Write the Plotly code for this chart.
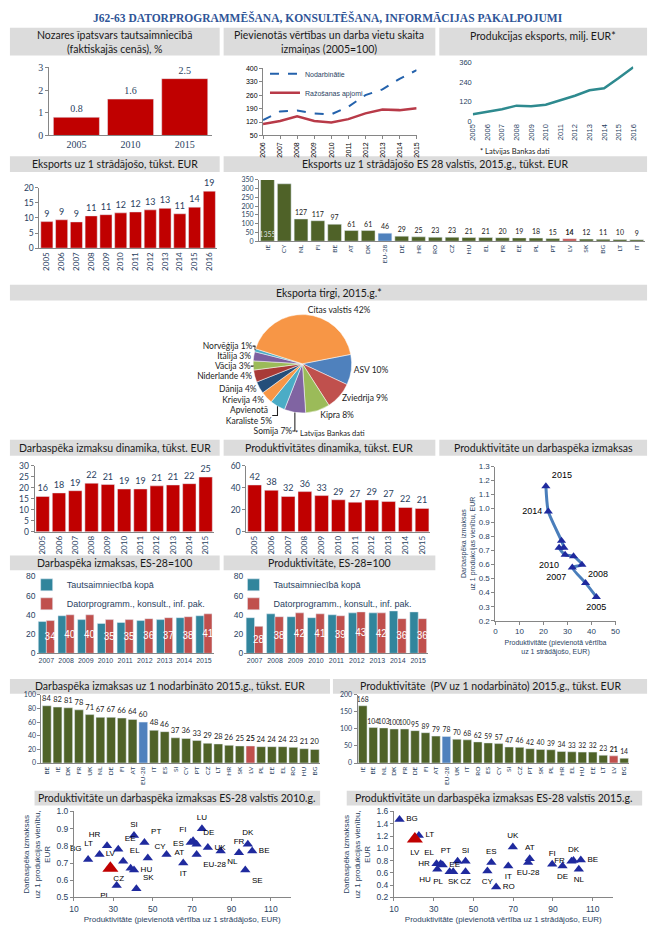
import plotly.graph_objects as go

W, H = 657, 940

# ---------------- DATA ----------------
share_years = ["2005", "2010", "2015"]
share_vals = [0.8, 1.6, 2.5]

idx_years = ["2006", "2007", "2008", "2009", "2010", "2011", "2012", "2013", "2014", "2015"]
idx_employed = [130, 175, 180, 165, 160, 200, 260, 290, 345, 390]
idx_output = [110, 125, 150, 125, 118, 135, 165, 185, 182, 192]

exp_years = ["2005", "2006", "2007", "2008", "2009", "2010", "2011", "2012", "2013", "2014", "2015", "2016"]
exp_vals = [45, 60, 75, 97, 93, 103, 130, 157, 190, 203, 265, 330]

epw_vals = [8.8, 9.4, 8.7, 10.7, 11.1, 11.7, 12.0, 12.7, 13.2, 11.4, 13.6, 18.9]

eu_exp_countries = ["IE", "CY", "NL", "FI", "BE", "AT", "DK", "EU-28", "DE", "HR", "RO", "CZ",
                    "HU", "EL", "FR", "EE", "PL", "PT", "LV", "SK", "BG", "LT", "IT"]
eu_exp_vals = [1355, 328, 127, 117, 97, 61, 61, 46, 29, 25, 23, 23, 21, 21, 20, 19, 18, 15, 14, 12, 11, 10, 9]

pie_labels = ["ASV", "Zviedrija", "Kipra", "Somija", "Apvienotā<br>Karaliste", "Krievija", "Dānija",
              "Niderlande", "Vācija", "Itālija", "Norvēģija", "Citas valstis"]
pie_vals = [10, 9, 8, 7, 5, 4, 4, 4, 3, 3, 1, 42]

dyn_years = ["2005", "2006", "2007", "2008", "2009", "2010", "2011", "2012", "2013", "2014", "2015"]
lab_cost = [16, 17.6, 18.6, 22, 21.4, 19.4, 19.4, 20.8, 21.2, 21.8, 24.8]
prod = [42.4, 37.6, 32, 36.4, 32.8, 29, 26.8, 28.8, 27.4, 22, 21.2]

pl_years = ["2005", "2006", "2007", "2008", "2009", "2010", "2011", "2012", "2013", "2014", "2015"]
pl_prod = [42, 37.5, 32, 36, 32.5, 29, 26.5, 28.5, 27.5, 22, 21]
pl_cost = [0.37, 0.47, 0.58, 0.60, 0.66, 0.67, 0.72, 0.72, 0.77, 0.98, 1.16]
pl_labels = ["2005", "", "2007", "2008", "", "2010", "", "", "", "2014", "2015"]

idx_years2 = ["2007", "2008", "2009", "2010", "2011", "2012", "2013", "2014", "2015"]
lab_idx_total = [33, 39, 35, 31, 32, 34, 35, 37, 39]
lab_idx_sector = [34, 40, 40, 35, 35, 36, 37, 38, 41]
prod_idx_total = [37, 41, 38, 37, 40, 42, 42, 44, 43]
prod_idx_sector = [28, 38, 42, 41, 39, 43, 42, 36, 36]

lc_countries = ["BE", "IE", "DK", "FR", "UK", "NL", "DE", "FI", "AT", "EU-28", "IT", "ES", "SI", "CY",
                "PT", "CZ", "LT", "HR", "SK", "LV", "PL", "EE", "EL", "RO", "HU", "BG"]
lc_vals = [84, 82, 81, 78, 71, 67, 67, 66, 64, 60, 48, 46, 37, 36, 33, 29, 28, 26, 25, 25, 24, 24, 24, 23, 21, 20]

pv_countries = ["IE", "BE", "NL", "DK", "FR", "DE", "FI", "AT", "EU-28", "UK", "IT", "RO", "ES", "CY",
                "SI", "CZ", "PT", "SK", "PL", "HR", "EL", "HU", "EE", "LT", "LV", "BG"]
pv_vals = [168, 104, 103, 100, 100, 95, 89, 79, 78, 70, 68, 62, 59, 57, 47, 46, 42, 40, 39, 34, 33, 32, 32, 23, 21, 14]

sc10_c = ["BG", "LT", "HR", "EE", "EL", "SI", "CZ", "HU", "PL", "SK", "PT", "CY", "ES", "AT", "FI",
          "DE", "EU-28", "IT", "LU", "UK", "NL", "FR", "DK", "BE", "SE"]
sc10_x = [17.2, 23, 26.8, 32.5, 35, 40.5, 38.8, 40.5, 31.7, 41.7, 45.8, 47.5, 57, 69.3, 70.5,
          72.3, 72.3, 65.5, 75, 78, 84.5, 93.8, 98.3, 100.5, 97]
sc10_y = [0.72, 0.75, 0.80, 0.78, 0.71, 0.86, 0.67, 0.66, 0.57, 0.55, 0.82, 0.73, 0.75, 0.82, 0.83,
          0.81, 0.75, 0.70, 0.90, 0.79, 0.77, 0.76, 0.81, 0.77, 0.66]
sc10_lv = [28.5, 0.67]

sc15_c = ["BG", "LT", "HR", "EL", "EE", "HU", "PL", "SK", "CZ", "PT", "SI", "CY", "ES", "RO", "IT",
          "UK", "AT", "EU-28", "FI", "DE", "FR", "DK", "BE", "NL"]
sc15_x = [12.8, 22.5, 31.4, 33.5, 34.5, 31.8, 38, 39.8, 46, 42, 46, 57, 59, 61.4, 67.5,
          69.8, 78.3, 77.5, 89.6, 94.8, 99.3, 100.3, 104, 103]
sc15_y = [1.47, 1.21, 0.75, 0.75, 0.73, 0.66, 0.62, 0.62, 0.62, 0.79, 0.79, 0.63, 0.77, 0.37, 0.71,
          1.02, 0.83, 0.77, 0.74, 0.71, 0.79, 0.80, 0.81, 0.66]
sc15_lv = [20.5, 1.15]

# ---------------- STYLE ----------------
SANS = "Liberation Sans"
CAL = "Lato"
SERIF = "Liberation Serif"
AX = "#868686"
RED = "#C00000"
GREEN = "#4F6228"
BLUE = "#4F81BD"
LVRED = "#C0504D"
TEAL = "#31859C"
NAVY = "#1F2A9E"

pos10 = {"BG": "top left", "LT": "top left", "HR": "top left", "EE": "top right", "EL": "top right",
         "SI": "top center", "CZ": "bottom left", "HU": "middle right", "PL": "bottom left",
         "SK": "top right", "PT": "top right", "CY": "top right", "ES": "top right", "AT": "bottom left",
         "FI": "top left", "DE": "top right", "EU-28": "bottom right", "IT": "bottom center",
         "LU": "top center", "UK": "middle right", "NL": "bottom right", "FR": "top center",
         "DK": "top center", "BE": "middle right", "SE": "bottom right"}
pos15 = {"BG": "middle right", "LT": "middle right", "HR": "middle left", "EL": "top left",
         "EE": "middle right", "HU": "bottom left", "PL": "bottom left", "SK": "bottom center",
         "CZ": "bottom center", "PT": "top left", "SI": "top center", "CY": "bottom center",
         "ES": "top center", "RO": "middle right", "IT": "bottom center", "UK": "top center",
         "AT": "top center", "EU-28": "bottom center", "FI": "top center", "DE": "bottom center",
         "FR": "middle left", "DK": "top center", "BE": "middle right", "NL": "bottom center"}
pl_pos = ["bottom center", "top left", "bottom left", "bottom right", "top left", "bottom left",
          "top left", "top left", "top left", "middle left", "top right"]

fig = go.Figure()
layout = {}


def sfx(n):
    return "" if n == 1 else str(n)


def add_axes(n, x0, x1, y0, y1, xa=None, ya=None):
    bx = dict(domain=[x0 / W, x1 / W], anchor="y" + sfx(n), showline=True, linecolor=AX, linewidth=1,
              ticks="outside", ticklen=3, tickcolor=AX, showgrid=False, zeroline=False, fixedrange=True,
              tickfont=dict(family=SANS, size=7, color="#000"))
    by = dict(domain=[1 - y1 / H, 1 - y0 / H], anchor="x" + sfx(n), showline=True, linecolor=AX, linewidth=1,
              ticks="outside", ticklen=3, tickcolor=AX, showgrid=False, zeroline=False, fixedrange=True,
              tickfont=dict(family=SANS, size=7, color="#000"))
    if xa:
        bx.update(xa)
    if ya:
        by.update(ya)
    layout["xaxis" + sfx(n)] = bx
    layout["yaxis" + sfx(n)] = by


def ax(n):
    return dict(xaxis="x" + sfx(n), yaxis="y" + sfx(n))


def fmt(v):
    return f"{v:.0f}"


# P1 share
fig.add_trace(go.Bar(x=share_years, y=share_vals, marker_color=RED, width=0.85,
                     text=[f"{v:.1f}" for v in share_vals], textposition="outside", constraintext="none",
                     textfont=dict(family=SERIF, size=10), cliponaxis=False, showlegend=False, **ax(1)))
add_axes(1, 45, 210, 62, 131,
         xa=dict(type="category", tickfont=dict(family=SERIF, size=10), ticks=""),
         ya=dict(range=[0, 3], dtick=1, tickfont=dict(family=SERIF, size=10)))

# P2 index lines
fig.add_trace(go.Scatter(x=idx_years, y=idx_employed, mode="lines", name="Nodarbinātie",
                         line=dict(color="#2462AC", width=2, dash="dash"), legend="legend", **ax(2)))
fig.add_trace(go.Scatter(x=idx_years, y=idx_output, mode="lines", name="Ražošanas apjomi",
                         line=dict(color="#B83A48", width=2.5), legend="legend", **ax(2)))
add_axes(2, 262, 418, 63, 131,
         xa=dict(type="category", tickangle=-90),
         ya=dict(range=[50, 400], tick0=50, dtick=70))

# P3 exports
fig.add_trace(go.Scatter(x=exp_years, y=exp_vals, mode="lines", line=dict(color="#2E8A8F", width=2.5),
                         showlegend=False, **ax(3)))
add_axes(3, 475, 638, 57, 117,
         xa=dict(type="category", tickangle=-90, ticks="", showline=False, tickfont=dict(family=SANS, size=7.5)),
         ya=dict(range=[0, 360], dtick=120, showline=False, ticks="", tickfont=dict(family=SANS, size=7.5)))

# P4 exports per worker
fig.add_trace(go.Bar(x=exp_years, y=epw_vals, marker_color=RED, text=[fmt(v) for v in epw_vals],
                     textposition="outside", constraintext="none", textfont=dict(family=CAL, size=9),
                     cliponaxis=False, showlegend=False, **ax(4)))
add_axes(4, 35, 215, 184, 245,
         xa=dict(type="category", tickangle=-90, tickfont=dict(family=CAL, size=8), ticks=""),
         ya=dict(range=[0, 20], dtick=5, tickfont=dict(family=CAL, size=8.5)))

# P5 EU exports per worker
eu_colors = [BLUE if c == "EU-28" else (LVRED if c == "LV" else GREEN) for c in eu_exp_countries]
eu_text = [f"<b>{v}</b>" if c == "LV" else str(v) for c, v in zip(eu_exp_countries, eu_exp_vals)]
eu_tpos = ["inside" if v > 350 else "outside" for v in eu_exp_vals]
fig.add_trace(go.Bar(x=eu_exp_countries, y=eu_exp_vals, marker_color=eu_colors, text=eu_text,
                     textposition=eu_tpos, insidetextanchor="start", constraintext="none", textangle=0,
                     textfont=dict(family=CAL, size=7, color="#222"),
                     insidetextfont=dict(family=CAL, size=7, color="#DDDDDD"),
                     outsidetextfont=dict(family=CAL, size=7, color="#222"),
                     cliponaxis=True, showlegend=False, **ax(5)))
add_axes(5, 258, 650, 176, 238,
         xa=dict(type="category", tickangle=-90, tickfont=dict(family=CAL, size=6.5), ticks=""),
         ya=dict(range=[0, 350], dtick=50, tickfont=dict(family=CAL, size=7)))

# P6 pie
pie_colors = ["#4F81BD", "#C0504D", "#9BBB59", "#8064A2", "#4BACC6", "#F79646", "#254E7A",
              "#A83A37", "#9BBB59", "#7C5FA0", "#4BACC6", "#F79646"]
fig.add_trace(go.Pie(labels=pie_labels, values=pie_vals, sort=False, direction="clockwise", rotation=79,
                     marker=dict(colors=pie_colors, line=dict(color="#FFFFFF", width=0.5)),
                     texttemplate="%{label} %{value}%", textposition="outside",
                     textfont=dict(family=CAL, size=8.5, color="#222"), showlegend=False,
                     domain=dict(x=[252 / W, 352 / W], y=[1 - 412 / H, 1 - 312 / H])))

# P7 labour cost dynamics
fig.add_trace(go.Bar(x=dyn_years, y=lab_cost, marker_color=RED, text=[fmt(v) for v in lab_cost],
                     textposition="outside", constraintext="none", textfont=dict(family=CAL, size=9),
                     cliponaxis=False, showlegend=False, **ax(7)))
add_axes(7, 30, 212, 465, 532,
         xa=dict(type="category", tickangle=-90, tickfont=dict(family=CAL, size=8), ticks=""),
         ya=dict(range=[0, 30], dtick=5, tickfont=dict(family=CAL, size=8.5)))

# P8 productivity dynamics
fig.add_trace(go.Bar(x=dyn_years, y=prod, marker_color=RED, text=[fmt(v) for v in prod],
                     textposition="outside", constraintext="none", textfont=dict(family=CAL, size=9),
                     cliponaxis=False, showlegend=False, **ax(8)))
add_axes(8, 245, 432, 465, 532,
         xa=dict(type="category", tickangle=-90, tickfont=dict(family=CAL, size=8), ticks=""),
         ya=dict(range=[0, 60], dtick=20, tickfont=dict(family=CAL, size=8.5)))

# P9 productivity vs labour cost
fig.add_trace(go.Scatter(x=pl_prod, y=pl_cost, mode="lines+markers+text", text=pl_labels,
                         textposition=pl_pos, textfont=dict(family=SANS, size=9, color="#000"),
                         line=dict(color="#4A7EBB", width=3, shape="spline", smoothing=0.6),
                         marker=dict(symbol="triangle-up", size=8, color=NAVY),
                         cliponaxis=False, showlegend=False, **ax(9)))
add_axes(9, 498, 620, 466, 622,
         xa=dict(range=[0, 50], dtick=10, tickfont=dict(family=SANS, size=8),
                 title=dict(text="Produktivitāte (pievienotā vērtība<br>uz 1 strādājošo, EUR)",
                            font=dict(family=SANS, size=7), standoff=4)),
         ya=dict(range=[0.2, 1.3], dtick=0.1, tickformat=".1f", tickfont=dict(family=SANS, size=8),
                 title=dict(text="Darbaspēka izmaksas<br>uz 1 produkcijas vienību, EUR",
                            font=dict(family=SANS, size=7), standoff=2)))

# P10 labour cost index
fig.add_trace(go.Bar(x=idx_years2, y=lab_idx_total, name="Tautsaimniecībā kopā", marker_color=TEAL,
                     legend="legend2", **ax(10)))
fig.add_trace(go.Bar(x=idx_years2, y=lab_idx_sector, name="Datorprogramm., konsult., inf. pak.",
                     marker_color=LVRED, text=[str(v) for v in lab_idx_sector], textposition="inside",
                     insidetextanchor="middle", textangle=0, constraintext="none",
                     textfont=dict(family=SANS, size=10, color="#FFFFFF"), legend="legend2", **ax(10)))
add_axes(10, 32, 212, 577, 655,
         xa=dict(type="category", tickfont=dict(family=SANS, size=7), ticks=""),
         ya=dict(range=[0, 80], dtick=20, tickfont=dict(family=SANS, size=8.5), showline=False, ticks=""))

# P11 productivity index
fig.add_trace(go.Bar(x=idx_years2, y=prod_idx_total, name="Tautsaimniecībā kopā", marker_color=TEAL,
                     legend="legend3", **ax(11)))
fig.add_trace(go.Bar(x=idx_years2, y=prod_idx_sector, name="Datorprogramm., konsult., inf. pak.",
                     marker_color=LVRED, text=[str(v) for v in prod_idx_sector], textposition="inside",
                     insidetextanchor="middle", textangle=0, constraintext="none",
                     textfont=dict(family=SANS, size=10, color="#FFFFFF"), legend="legend3", **ax(11)))
add_axes(11, 243, 430, 577, 655,
         xa=dict(type="category", tickfont=dict(family=SANS, size=7), ticks=""),
         ya=dict(range=[0, 80], dtick=20, tickfont=dict(family=SANS, size=8.5), showline=False, ticks=""))

# P12 labour cost per employee
lc_colors = [BLUE if c == "EU-28" else (LVRED if c == "LV" else GREEN) for c in lc_countries]
lc_text = [f"<b>{v}</b>" if c == "LV" else str(v) for c, v in zip(lc_countries, lc_vals)]
fig.add_trace(go.Bar(x=lc_countries, y=lc_vals, marker_color=lc_colors, text=lc_text, textposition="outside",
                     constraintext="none", textfont=dict(family=CAL, size=7.5, color="#222"),
                     cliponaxis=False, showlegend=False, **ax(12)))
add_axes(12, 37, 320, 697, 766,
         xa=dict(type="category", tickangle=-90, tickfont=dict(family=CAL, size=6.5), ticks=""),
         ya=dict(range=[0, 100], dtick=20, tickfont=dict(family=CAL, size=7)))

# P13 productivity per employee
pv_colors = [BLUE if c == "EU-28" else (LVRED if c == "LV" else GREEN) for c in pv_countries]
pv_text = [f"<b>{v}</b>" if c == "LV" else str(v) for c, v in zip(pv_countries, pv_vals)]
fig.add_trace(go.Bar(x=pv_countries, y=pv_vals, marker_color=pv_colors, text=pv_text, textposition="outside",
                     constraintext="none", textfont=dict(family=CAL, size=6.8, color="#222"),
                     cliponaxis=False, showlegend=False, **ax(13)))
add_axes(13, 358, 634, 697, 766,
         xa=dict(type="category", tickangle=-90, tickfont=dict(family=CAL, size=6.5), ticks=""),
         ya=dict(range=[0, 200], dtick=50, tickfont=dict(family=CAL, size=7)))

# P14 scatter 2010
fig.add_trace(go.Scatter(x=sc10_x, y=sc10_y, mode="markers+text", text=sc10_c,
                         textposition=[pos10[c] for c in sc10_c],
                         textfont=dict(family=SANS, size=8, color="#000"),
                         marker=dict(symbol="triangle-up", size=9, color=NAVY),
                         cliponaxis=False, showlegend=False, **ax(14)))
fig.add_trace(go.Scatter(x=[sc10_lv[0]], y=[sc10_lv[1]], mode="markers+text", text=["LV"],
                         textposition="top center", textfont=dict(family=SANS, size=8, color="#000"),
                         marker=dict(symbol="triangle-up", size=14, color=RED),
                         cliponaxis=False, showlegend=False, **ax(14)))
add_axes(14, 70, 290, 815, 902,
         xa=dict(range=[10, 120], tickvals=[10, 30, 50, 70, 90, 110], tickfont=dict(family=SANS, size=8.5),
                 title=dict(text="Produktivitāte (pievienotā vērtība uz 1 strādājošo, EUR)",
                            font=dict(family=SANS, size=8), standoff=3)),
         ya=dict(range=[0.5, 1.0], dtick=0.1, tickformat=".1f", tickfont=dict(family=SANS, size=8.5),
                 title=dict(text="Darbaspēka izmaksas<br>uz 1 produkcijas vienību,<br>EUR",
                            font=dict(family=SANS, size=8), standoff=4)))

# P15 scatter 2015
fig.add_trace(go.Scatter(x=sc15_x, y=sc15_y, mode="markers+text", text=sc15_c,
                         textposition=[pos15[c] for c in sc15_c],
                         textfont=dict(family=SANS, size=8, color="#000"),
                         marker=dict(symbol="triangle-up", size=9, color=NAVY),
                         cliponaxis=False, showlegend=False, **ax(15)))
fig.add_trace(go.Scatter(x=[sc15_lv[0]], y=[sc15_lv[1]], mode="markers+text", text=["LV"],
                         textposition="bottom center", textfont=dict(family=SANS, size=8, color="#000"),
                         marker=dict(symbol="triangle-up", size=14, color=RED),
                         cliponaxis=False, showlegend=False, **ax(15)))
add_axes(15, 395, 617, 815, 902,
         xa=dict(range=[10, 120], tickvals=[10, 30, 50, 70, 90, 110], tickfont=dict(family=SANS, size=8.5),
                 title=dict(text="Produktivitāte (pievienotā vērtība uz 1 strādājošo, EUR)",
                            font=dict(family=SANS, size=8), standoff=3)),
         ya=dict(range=[0.2, 1.6], dtick=0.2, tickformat=".1f", tickfont=dict(family=SANS, size=8.5),
                 title=dict(text="Darbaspēka izmaksas<br>uz 1 produkcijas vienību,<br>EUR",
                            font=dict(family=SANS, size=8), standoff=4)))

# ---------------- PANEL TITLES ----------------
shapes = []
annotations = []


def panel(x0, x1, y0, y1, text, ty=None, size=10.5):
    shapes.append(dict(type="rect", xref="paper", yref="paper", x0=x0 / W, x1=x1 / W,
                       y0=1 - y1 / H, y1=1 - y0 / H, fillcolor="#DCDCDC", line=dict(width=0), layer="below"))
    yy = (y0 + y1) / 2 if ty is None else ty
    annotations.append(dict(xref="paper", yref="paper", x=(x0 + x1) / 2 / W, y=1 - yy / H, text=text,
                            showarrow=False, xanchor="center", yanchor="middle",
                            font=dict(family=CAL, size=size, color="#1a1a1a")))


panel(5, 218, 22, 50, "Nozares īpatsvars tautsaimniecībā<br>(faktiskajās cenās), %")
panel(222, 437, 22, 50, "Pievienotās vērtības un darba vietu skaita<br>izmaiņas (2005=100)")
panel(441, 652, 22, 50, "Produkcijas eksports, milj. EUR*", ty=30)
panel(5, 218, 152, 168, "Eksports uz 1 strādājošo, tūkst. EUR")
panel(222, 652, 152, 168, "Eksports uz 1 strādājošo ES 28 valstīs, 2015.g., tūkst. EUR")
panel(5, 652, 282, 298, "Eksporta tirgi, 2015.g.*")
panel(5, 218, 439, 455, "Darbaspēka izmaksu dinamika, tūkst. EUR")
panel(222, 437, 439, 455, "Produktivitātes dinamika, tūkst. EUR")
panel(441, 652, 439, 455, "Produktivitāte un darbaspēka izmaksas")
panel(5, 218, 556, 571, "Darbaspēka izmaksas, ES-28=100")
panel(222, 437, 556, 571, "Produktivitāte, ES-28=100")
panel(5, 330, 681, 696, "Darbaspēka izmaksas uz 1 nodarbināto 2015.g., tūkst. EUR")
panel(333, 652, 681, 696, "Produktivitāte  (PV uz 1 nodarbināto) 2015.g., tūkst. EUR")
panel(30, 320, 794, 809, "Produktivitāte un darbaspēka izmaksas ES-28 valstīs 2010.g.")
panel(347, 647, 794, 809, "Produktivitāte un darbaspēka izmaksas ES-28 valstīs 2015.g.")

annotations.append(dict(xref="paper", yref="paper", x=328 / W, y=1 - 12 / H,
                        text="<b>J62-63 DATORPROGRAMMĒŠANA, KONSULTĒŠANA, INFORMĀCIJAS PAKALPOJUMI</b>",
                        showarrow=False, xanchor="center", yanchor="middle",
                        font=dict(family=SERIF, size=11.5, color="#2F5597")))
annotations.append(dict(xref="paper", yref="paper", x=480 / W, y=1 - 147 / H, text="* Latvijas Bankas dati",
                        showarrow=False, xanchor="left", yanchor="middle",
                        font=dict(family=CAL, size=7.5, color="#222")))
annotations.append(dict(xref="paper", yref="paper", x=330 / W, y=1 - 433 / H, text="* Latvijas Bankas dati",
                        showarrow=False, xanchor="center", yanchor="middle",
                        font=dict(family=CAL, size=7.5, color="#222")))

layout.update(dict(
    width=W, height=H, margin=dict(l=0, r=0, t=0, b=0), paper_bgcolor="#FFFFFF", plot_bgcolor="#FFFFFF",
    barmode="group", bargap=0.18, bargroupgap=0.0, showlegend=True,
    shapes=shapes, annotations=annotations,
    legend=dict(x=264 / W, y=1 - 54 / H, xanchor="left", yanchor="top", bgcolor="rgba(0,0,0,0)",
                font=dict(family=SANS, size=7), tracegroupgap=0, itemwidth=30),
    legend2=dict(x=22 / W, y=1 - 571 / H, xanchor="left", yanchor="top", bgcolor="rgba(0,0,0,0)",
                 font=dict(family=SANS, size=9), tracegroupgap=0, itemwidth=30),
    legend3=dict(x=232 / W, y=1 - 571 / H, xanchor="left", yanchor="top", bgcolor="rgba(0,0,0,0)",
                 font=dict(family=SANS, size=9), tracegroupgap=0, itemwidth=30),
))
fig.update_layout(**layout)

fig.write_html("out.html", config={"displayModeBar": False},
               post_script="document.body.style.margin='0';")
